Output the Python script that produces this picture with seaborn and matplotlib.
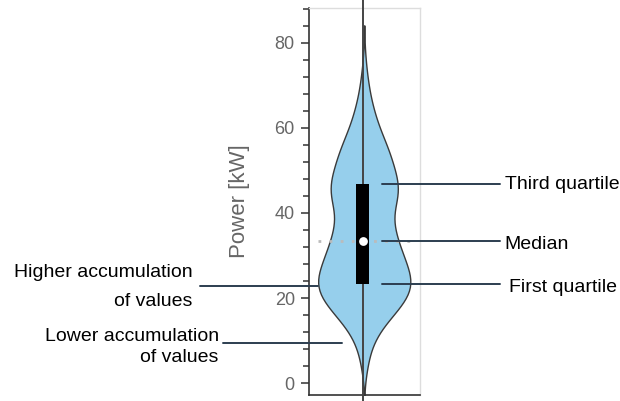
import numpy as np
import pandas as pd
import matplotlib.pyplot as plt
from matplotlib.ticker import MultipleLocator
import seaborn as sns

# Power values (kW) and how often each occurs
power_levels = [2, 4, 6, 8, 10, 12, 14, 16, 18, 20, 22, 24, 26, 28, 30, 32, 34, 36, 38,
                40, 42, 44, 46, 48, 50, 52, 54, 56, 58, 60, 62, 64, 66, 68, 70, 72, 74, 76, 78]
power_counts = [2, 3, 4, 6, 9, 13, 19, 27, 34, 40, 45, 45, 42, 39, 36, 33, 30, 28, 26,
                25, 29, 32, 33, 31, 28, 26, 24, 21, 17, 14, 11, 9, 7, 5, 4, 3, 2, 1, 1]

# First quartile, median, third quartile
quartiles = [23.3, 33.4, 46.8]

# Levels pointed at on the left side
accum_levels = [22.8, 9.4]

df = pd.DataFrame({"Power": np.repeat(power_levels, power_counts)})

sns.set_style("ticks")
plt.rcParams["font.family"] = ["Liberation Sans", "DejaVu Sans"]

fig = plt.figure(figsize=(6.2, 4.01), dpi=100)
ax = fig.add_axes([0.498, 0.015, 0.179, 0.965])

sns.violinplot(y="Power", data=df, ax=ax, inner=None, color="#96CFEC", saturation=1,
               linewidth=1, linecolor="#3a3a3a", width=0.83, bw_method=0.2, cut=2)

ax.set_xlim(-0.5, 0.5)
ax.set_ylim(-2.8, 88.2)

# center line running through the whole plot
ax.axvline(-0.014, ymin=-0.03, ymax=1.05, color="#444444", lw=1.4, clip_on=False, zorder=3)

q1, med, q3 = quartiles
ax.plot([-0.42, 0.45], [med, med], color="#bbbbbb", lw=2, ls=(0, (1, 3)), zorder=3)
ax.bar([-0.014], [q3 - q1], bottom=q1, width=0.117, color="black", linewidth=0, zorder=4)
ax.scatter([-0.014], [med], s=40, color="white", zorder=5, linewidths=0)

# annotations on the right
navy = "#2c3e50"
right_labels = ["First quartile", "Median", "Third quartile"]
right_baselines = [21.4, 31.5, 45.6]
right_x = [1.30, 1.266, 1.266]
for q, lab, yb, xt in zip(quartiles, right_labels, right_baselines, right_x):
    ax.plot([0.158, 1.22], [q, q], color=navy, lw=1.4, clip_on=False, zorder=6)
    ax.text(xt, yb, lab, fontsize=14, ha="left", va="baseline", color="black")

# annotations on the left
ax.plot([-1.482, -0.419], [accum_levels[0]] * 2, color=navy, lw=1.4, clip_on=False, zorder=6)
ax.plot([-1.275, -0.203], [accum_levels[1]] * 2, color=navy, lw=1.4, clip_on=False, zorder=6)
ax.text(-1.545, 24.9, "Higher accumulation", fontsize=14, ha="right", va="baseline", color="black")
ax.text(-1.545, 18.1, "of values", fontsize=14, ha="right", va="baseline", color="black")
ax.text(-1.311, 9.9, "Lower accumulation", fontsize=14, ha="right", va="baseline", color="black")
ax.text(-1.311, 4.9, "of values", fontsize=14, ha="right", va="baseline", color="black")

# axis styling
ax.set_xticks([])
ax.set_xlabel("")
ax.yaxis.set_major_locator(MultipleLocator(20))
ax.yaxis.set_minor_locator(MultipleLocator(4))
ax.tick_params(axis="y", which="major", length=6, width=1.1, color="#333333",
               labelsize=13, labelcolor="#666666", pad=4)
ax.tick_params(axis="y", which="minor", length=4.5, width=1.1, color="#333333")
ax.set_ylabel("Power [kW]", fontsize=16, color="#666666")
ax.yaxis.set_label_coords(-0.53, 0.5)

for side in ["left", "bottom"]:
    ax.spines[side].set_color("#333333")
    ax.spines[side].set_linewidth(1.2)
for side in ["top", "right"]:
    ax.spines[side].set_visible(True)
    ax.spines[side].set_color("#dddddd")
    ax.spines[side].set_linewidth(1)

plt.savefig("out.png", dpi=100)
plt.close()
